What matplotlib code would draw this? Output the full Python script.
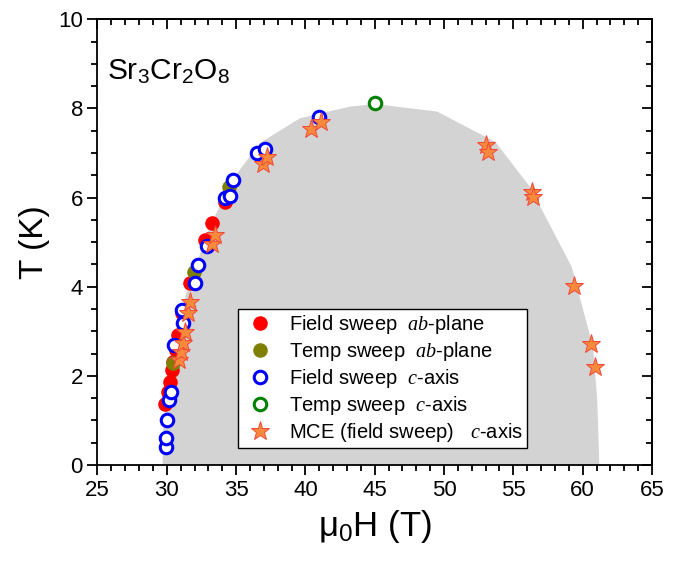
import matplotlib
matplotlib.use("Agg")
import matplotlib.pyplot as plt
from matplotlib.ticker import MultipleLocator

plt.rcParams['font.family'] = ['Liberation Sans', 'DejaVu Sans']
plt.rcParams['mathtext.fontset'] = 'custom'
plt.rcParams['mathtext.rm'] = 'Liberation Sans'
plt.rcParams['mathtext.it'] = 'Liberation Serif:italic'

# phase boundary outline (field in T, temperature in K)
dome_H = [29.7, 29.75, 30.2, 31.4, 33.1, 34.9, 36.7, 39.6, 43.2, 45.0, 49.5,
          53.7, 56.2, 59.2, 60.75, 61.05, 61.2]
dome_T = [0.0, 0.86, 2.36, 3.85, 5.35, 6.47, 7.22, 7.78, 8.04, 8.1, 7.93,
          7.25, 6.24, 4.45, 2.65, 1.46, 0.0]

# field sweep, ab-plane
fs_ab_H = [29.87, 30.1, 30.23, 30.35, 30.47, 30.7, 30.83, 31.07, 31.67, 32.76, 33.24, 34.2]
fs_ab_T = [1.38, 1.64, 1.87, 2.13, 2.32, 2.58, 2.92, 3.4, 4.08, 5.05, 5.42, 5.91]

# temperature sweep, ab-plane
ts_ab_H = [30.47, 31.98, 34.49]
ts_ab_T = [2.28, 4.34, 6.24]

# field sweep, c-axis
fs_c_H = [29.94, 29.94, 30.04, 30.16, 30.28, 30.52, 31.19, 31.07, 32.03, 32.27,
          32.88, 34.2, 34.56, 34.8, 36.49, 37.08, 41.0]
fs_c_T = [0.41, 0.6, 1.01, 1.46, 1.64, 2.69, 3.18, 3.48, 4.08, 4.49,
          4.91, 6.0, 6.03, 6.39, 6.99, 7.1, 7.81]

# temperature sweep, c-axis
ts_c_H = [45.02]
ts_c_T = [8.13]

# MCE field sweep, c-axis
mce_H = [30.9, 31.0, 31.15, 31.3, 31.55, 31.67, 33.24, 33.48, 36.92, 37.2,
         40.38, 41.1, 53.03, 53.2, 56.33, 56.45, 59.38, 60.58, 60.9]
mce_T = [2.36, 2.54, 2.73, 2.99, 3.4, 3.66, 4.97, 5.16, 6.75, 6.92,
         7.55, 7.7, 7.18, 7.03, 6.13, 6.02, 4.02, 2.71, 2.19]

fig = plt.figure(figsize=(6.84, 5.68), dpi=100)
ax = fig.add_axes([0.1425, 0.1813, 0.8107, 0.7847])

ax.fill(dome_H, dome_T, color='#d3d3d3', lw=0, zorder=0)

ms = 10.5
ax.plot(fs_ab_H, fs_ab_T, 'o', color='#ff0000', ms=ms, mew=0, ls='none',
        label=r'Field sweep  $ab$-plane')
ax.plot(ts_ab_H, ts_ab_T, 'o', color='#808000', ms=ms, mew=0, ls='none',
        label=r'Temp sweep  $ab$-plane')
ax.plot(fs_c_H, fs_c_T, 'o', mfc='white', mec='#0000ff', ms=ms - 1.5, mew=2.2, ls='none',
        label=r'Field sweep  $c$-axis')
ax.plot(ts_c_H, ts_c_T, 'o', mfc='white', mec='#008000', ms=ms - 1.5, mew=2.2, ls='none',
        label=r'Temp sweep  $c$-axis')
ax.plot(mce_H, mce_T, '*', mfc='#f98a3c', mec='#f0483a', ms=14, mew=0.7, ls='none',
        label=r'MCE (field sweep)   $c$-axis')

ax.set_xlim(25, 65)
ax.set_ylim(0, 10)
ax.xaxis.set_major_locator(MultipleLocator(5))
ax.xaxis.set_minor_locator(MultipleLocator(1))
ax.yaxis.set_major_locator(MultipleLocator(2))
ax.yaxis.set_minor_locator(MultipleLocator(0.5))
ax.tick_params(which='both', direction='out', width=1.3, labelsize=16)
ax.tick_params(which='major', length=7)
ax.tick_params(which='minor', length=4)
for s in ax.spines.values():
    s.set_linewidth(1.3)

# inward ticks on the top and right frame
top = ax.secondary_xaxis('top')
top.xaxis.set_major_locator(MultipleLocator(5))
top.xaxis.set_minor_locator(MultipleLocator(1))
top.tick_params(which='both', direction='in', width=1.3, labeltop=False)
top.tick_params(which='major', length=7)
top.tick_params(which='minor', length=4)
right = ax.secondary_yaxis('right')
right.yaxis.set_major_locator(MultipleLocator(2))
right.yaxis.set_minor_locator(MultipleLocator(0.5))
right.tick_params(which='both', direction='in', width=1.3, labelright=False)
right.tick_params(which='major', length=7)
right.tick_params(which='minor', length=4)
top.spines['top'].set_linewidth(1.3)
right.spines['right'].set_linewidth(1.3)

ax.set_xlabel(r'μ$_0$H (T)', fontsize=25, labelpad=5)
ax.set_ylabel('T (K)', fontsize=24, labelpad=6)

ax.text(0.017, 0.882, r'Sr$_3$Cr$_2$O$_8$', transform=ax.transAxes, fontsize=21.5,
        ha='left', va='center')

leg = ax.legend(loc='lower left', bbox_to_anchor=(0.253, 0.038), fontsize=14.5,
                frameon=True, fancybox=False, edgecolor='black', framealpha=1,
                handletextpad=0.55, labelspacing=0.2, borderpad=0.2, handlelength=1.8,
                borderaxespad=0)
leg.get_frame().set_linewidth(1.0)

fig.savefig('out.png', dpi=100)
